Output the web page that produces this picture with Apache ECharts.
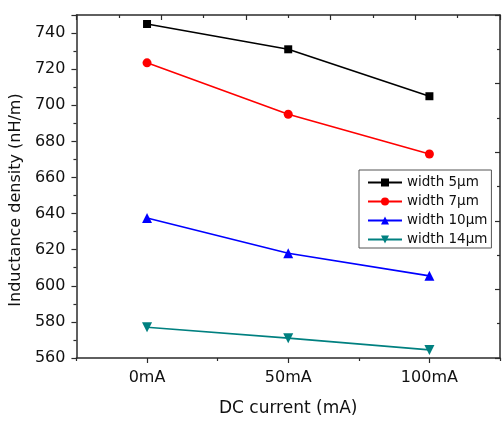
<!DOCTYPE html>
<html>
<head>
<meta charset="utf-8">
<script src="https://cdn.jsdelivr.net/npm/echarts@6/dist/echarts.min.js"></script>
<style>
  html, body { margin: 0; padding: 0; background: #fff; }
  #main { width: 504px; height: 422px; }
</style>
</head>
<body>
<div id="main"></div>
<script>
// DC current (mA) on x, inductance density (nH/m) on y
var currents = [0, 50, 100];
var w5 = [745, 731, 705];
var w7 = [723.5, 695, 673];
var w10 = [637.5, 618, 605.5];
var w14 = [577, 571, 564.5];
var seriesNames = ["width 5μm", "width 7μm", "width 10μm", "width 14μm"];
var majorX = [0, 50, 100];
var minorX = [-25, 25, 75, 125];

var chartDom = document.getElementById("main");
var myChart = echarts.init(chartDom);
var font = "DejaVu Sans, Verdana, sans-serif";
var axisColor = "#2b2b2b";

function pairs(vals) {
  return currents.map(function (c, i) { return [c, vals[i]]; });
}

function line(name, vals, color, symbol, size, rotate) {
  return {
    name: name,
    type: "line",
    data: pairs(vals),
    symbol: symbol,
    symbolSize: size,
    symbolRotate: rotate || 0,
    lineStyle: { color: color, width: 1.6 },
    itemStyle: { color: color },
    animation: false
  };
}

var option = {
  textStyle: { fontFamily: font },
  grid: { left: 75, right: 4, top: 15, bottom: 64 },
  legend: {
    orient: "vertical",
    left: 359,
    top: 170,
    padding: [5, 4, 1, 8],
    itemGap: 4,
    itemWidth: 34,
    itemHeight: 10,
    borderColor: "#555",
    borderWidth: 1,
    borderRadius: 0,
    textStyle: { fontSize: 13.5, lineHeight: 15, color: "#111", fontFamily: font },
    data: seriesNames
  },
  xAxis: [
    {
      type: "value",
      position: "bottom",
      min: -25,
      max: 125,
      name: "DC current (mA)",
      nameLocation: "middle",
      nameGap: 42,
      nameTextStyle: { fontSize: 17, color: "#111" },
      axisLine: { onZero: false, lineStyle: { color: axisColor, width: 1.5 } },
      axisTick: { customValues: majorX, length: 5, lineStyle: { color: axisColor, width: 1.2 } },
      axisLabel: {
        customValues: majorX,
        fontSize: 16,
        color: "#111",
        margin: 12,
        formatter: function (v) { return v + "mA"; }
      },
      splitLine: { show: false }
    },
    {
      type: "value",
      position: "bottom",
      min: -25,
      max: 125,
      axisLine: { show: false, onZero: false },
      axisTick: { customValues: minorX, length: 3, lineStyle: { color: axisColor, width: 1.2 } },
      axisLabel: { show: false },
      splitLine: { show: false }
    },
    {
      type: "value",
      position: "top",
      min: 0,
      max: 10,
      interval: 2,
      axisLine: { onZero: false, lineStyle: { color: axisColor, width: 1.5 } },
      axisTick: { inside: true, length: 5, lineStyle: { color: axisColor, width: 1.2 } },
      minorTick: { show: true, splitNumber: 2, length: 3, lineStyle: { color: axisColor, width: 1.2 } },
      axisLabel: { show: false },
      splitLine: { show: false }
    }
  ],
  yAxis: [
    {
      type: "value",
      position: "left",
      min: 560,
      max: 750,
      interval: 20,
      name: "Inductance density (nH/m)",
      nameLocation: "middle",
      nameGap: 52,
      nameTextStyle: { fontSize: 16, color: "#111", padding: [0, 27, 0, 0] },
      axisLine: { show: true, onZero: false, lineStyle: { color: axisColor, width: 1.5 } },
      axisTick: { show: true, length: 5, lineStyle: { color: axisColor, width: 1.2 } },
      minorTick: { show: true, splitNumber: 2, length: 3, lineStyle: { color: axisColor, width: 1.2 } },
      axisLabel: { fontSize: 16, color: "#111", margin: 11, showMaxLabel: false },
      splitLine: { show: false }
    },
    {
      type: "value",
      position: "right",
      min: 0,
      max: 10,
      interval: 2,
      axisLine: { show: true, onZero: false, lineStyle: { color: axisColor, width: 1.5 } },
      axisTick: { show: true, inside: true, length: 5, lineStyle: { color: axisColor, width: 1.2 } },
      minorTick: { show: true, splitNumber: 2, length: 3, lineStyle: { color: axisColor, width: 1.2 } },
      axisLabel: { show: false },
      splitLine: { show: false }
    }
  ],
  series: [
    line(seriesNames[0], w5, "#000000", "rect", 8),
    line(seriesNames[1], w7, "#ff0000", "circle", 9),
    line(seriesNames[2], w10, "#0000ff", "triangle", 10),
    line(seriesNames[3], w14, "#008080", "triangle", 10, 180)
  ]
};

option && myChart.setOption(option);
</script>
</body>
</html>
